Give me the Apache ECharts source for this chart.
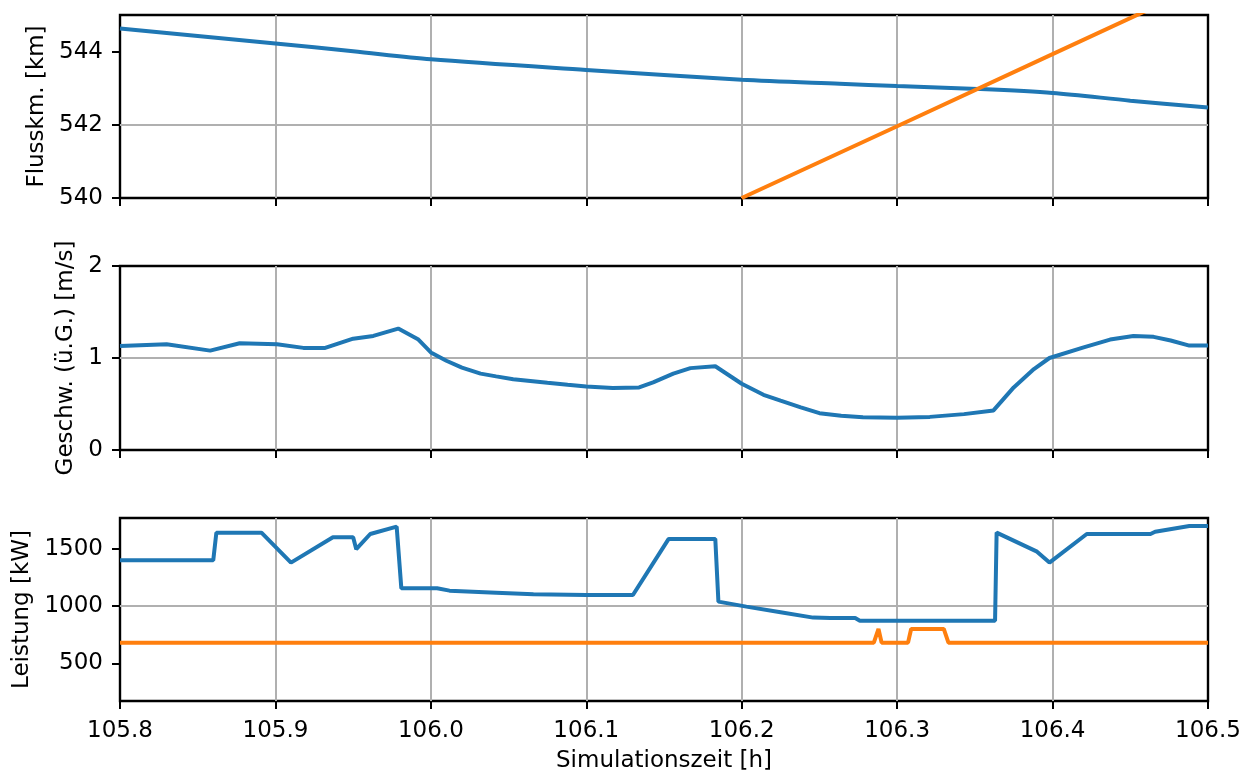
<!DOCTYPE html>
<html>
<head>
<meta charset="utf-8">
<script src="https://cdn.jsdelivr.net/npm/echarts@6/dist/echarts.min.js"></script>
<style>
html,body{margin:0;padding:0;background:#fff;}
#chart{width:1252px;height:771px;}
</style>
</head>
<body>
<div id="chart"></div>
<script>
// ---- data ----
const xTicks = [105.8, 105.9, 106.0, 106.1, 106.2, 106.3, 106.4, 106.5];
const kmTicks = [540, 542, 544];
const speedTicks = [0, 1, 2];
const powerTicks = [500, 1000, 1500];

const kmTimeA = [105.8, 105.9, 105.95, 106.0, 106.1, 106.2, 106.263, 106.3, 106.352, 106.4, 106.45, 106.5];
const kmValA  = [544.63, 544.22, 544.01, 543.79, 543.50, 543.23, 543.12, 543.06, 542.98, 542.87, 542.66, 542.47];
const kmTimeB = [106.2, 106.3, 106.4, 106.5];
const kmValB  = [540.0, 541.96, 543.93, 545.9];

const speedTime = [105.800, 105.830, 105.858, 105.877, 105.901, 105.918, 105.932, 105.950, 105.963, 105.979, 105.992, 106.000, 106.010, 106.020, 106.032, 106.042, 106.053, 106.064, 106.075, 106.088, 106.100, 106.117, 106.134, 106.143, 106.156, 106.167, 106.183, 106.200, 106.214, 106.225, 106.238, 106.250, 106.264, 106.278, 106.300, 106.321, 106.343, 106.362, 106.375, 106.388, 106.398, 106.420, 106.437, 106.452, 106.465, 106.476, 106.488, 106.500];
const speedVal  = [1.13, 1.15, 1.08, 1.16, 1.15, 1.11, 1.11, 1.21, 1.24, 1.32, 1.20, 1.06, 0.97, 0.895, 0.83, 0.80, 0.77, 0.75, 0.73, 0.708, 0.69, 0.675, 0.68, 0.735, 0.83, 0.89, 0.91, 0.72, 0.60, 0.536, 0.463, 0.40, 0.372, 0.355, 0.35, 0.36, 0.39, 0.43, 0.68, 0.88, 1.0, 1.115, 1.20, 1.24, 1.23, 1.19, 1.135, 1.135];

const powTimeA = [105.800, 105.860, 105.862, 105.891, 105.910, 105.937, 105.950, 105.952, 105.961, 105.978, 105.981, 106.004, 106.012, 106.042, 106.066, 106.100, 106.130, 106.153, 106.183, 106.185, 106.203, 106.225, 106.246, 106.257, 106.273, 106.276, 106.363, 106.364, 106.390, 106.398, 106.422, 106.463, 106.466, 106.488, 106.500];
const powValA  = [1400, 1400, 1642, 1642, 1380, 1602, 1602, 1497, 1630, 1694, 1156, 1156, 1135, 1117, 1103, 1097, 1097, 1587, 1587, 1039, 995, 946, 899, 895, 895, 872, 872, 1642, 1476, 1380, 1630, 1630, 1650, 1700, 1700];
const powTimeB = [105.800, 106.285, 106.288, 106.290, 106.307, 106.309, 106.330, 106.333, 106.500];
const powValB  = [680, 680, 800, 680, 680, 800, 800, 680, 680];

// ---- chart ----
const zip = (a, b) => a.map((v, i) => [v, b[i]]);
const FONT = 'DejaVu Sans';
const FS = 23;
const BLUE = '#1f77b4', ORANGE = '#ff7f0e';
const LW = 4;

function xAxis(idx, showLabels) {
  return {
    type: 'value', gridIndex: idx, min: 105.8, max: 106.5,
    axisLine: {show: false},
    axisTick: {show: true, inside: false, length: 8, customValues: xTicks, lineStyle: {color: '#000', width: 2}},
    axisLabel: {show: showLabels, customValues: xTicks, margin: 19, fontFamily: FONT, fontSize: FS, color: '#000',
                formatter: v => Number(v).toFixed(1)},
    splitLine: {show: true, showMinLine: false, showMaxLine: false, lineStyle: {color: '#b0b0b0', width: 2}},
    name: showLabels ? 'Simulationszeit [h]' : '',
    nameLocation: 'middle', nameGap: 49,
    nameTextStyle: {fontFamily: FONT, fontSize: FS, color: '#000'}
  };
}
function yAxis(idx, min, max, ticks, name, gap) {
  return {
    type: 'value', gridIndex: idx, min: min, max: max,
    axisLine: {show: false},
    axisTick: {show: true, inside: false, length: 8, customValues: ticks, lineStyle: {color: '#000', width: 2}},
    axisLabel: {customValues: ticks, margin: 17, fontFamily: FONT, fontSize: FS, color: '#000',
                formatter: v => String(v)},
    splitLine: {show: true, showMinLine: false, showMaxLine: false, lineStyle: {color: '#b0b0b0', width: 2}},
    name: name, nameLocation: 'middle', nameRotate: 90, nameGap: gap,
    nameTextStyle: {fontFamily: FONT, fontSize: FS, color: '#000'}
  };
}
const gridBase = {left: 120, right: 44, show: true, borderColor: '#000', borderWidth: 2.4,
                  backgroundColor: 'transparent', containLabel: false, outerBoundsMode: 'none'};
const option = {
  animation: false,
  backgroundColor: '#fff',
  grid: [
    Object.assign({top: 15, height: 183}, gridBase),
    Object.assign({top: 266, height: 184}, gridBase),
    Object.assign({top: 518, height: 183}, gridBase)
  ],
  xAxis: [xAxis(0, false), xAxis(1, false), xAxis(2, true)],
  yAxis: [
    yAxis(0, 540, 545, kmTicks, 'Flusskm. [km]', 70),
    yAxis(1, 0, 2, speedTicks, 'Geschw. (ü.G.) [m/s]', 39),
    yAxis(2, 170, 1770, powerTicks, 'Leistung [kW]', 84)
  ],
  series: [
    {type: 'line', xAxisIndex: 0, yAxisIndex: 0, data: zip(kmTimeA, kmValA), smooth: 0.3, showSymbol: false, lineStyle: {color: BLUE, width: LW}, clip: true},
    {type: 'line', xAxisIndex: 0, yAxisIndex: 0, data: zip(kmTimeB, kmValB), showSymbol: false, lineStyle: {color: ORANGE, width: LW}, clip: true},
    {type: 'line', xAxisIndex: 1, yAxisIndex: 1, data: zip(speedTime, speedVal), showSymbol: false, lineStyle: {color: BLUE, width: LW}, clip: true},
    {type: 'line', xAxisIndex: 2, yAxisIndex: 2, data: zip(powTimeA, powValA), showSymbol: false, lineStyle: {color: BLUE, width: LW}, clip: true},
    {type: 'line', xAxisIndex: 2, yAxisIndex: 2, data: zip(powTimeB, powValB), showSymbol: false, lineStyle: {color: ORANGE, width: LW}, clip: true}
  ]
};
const chart = echarts.init(document.getElementById('chart'), null, {renderer: 'canvas'});
chart.setOption(option);
</script>
</body>
</html>
